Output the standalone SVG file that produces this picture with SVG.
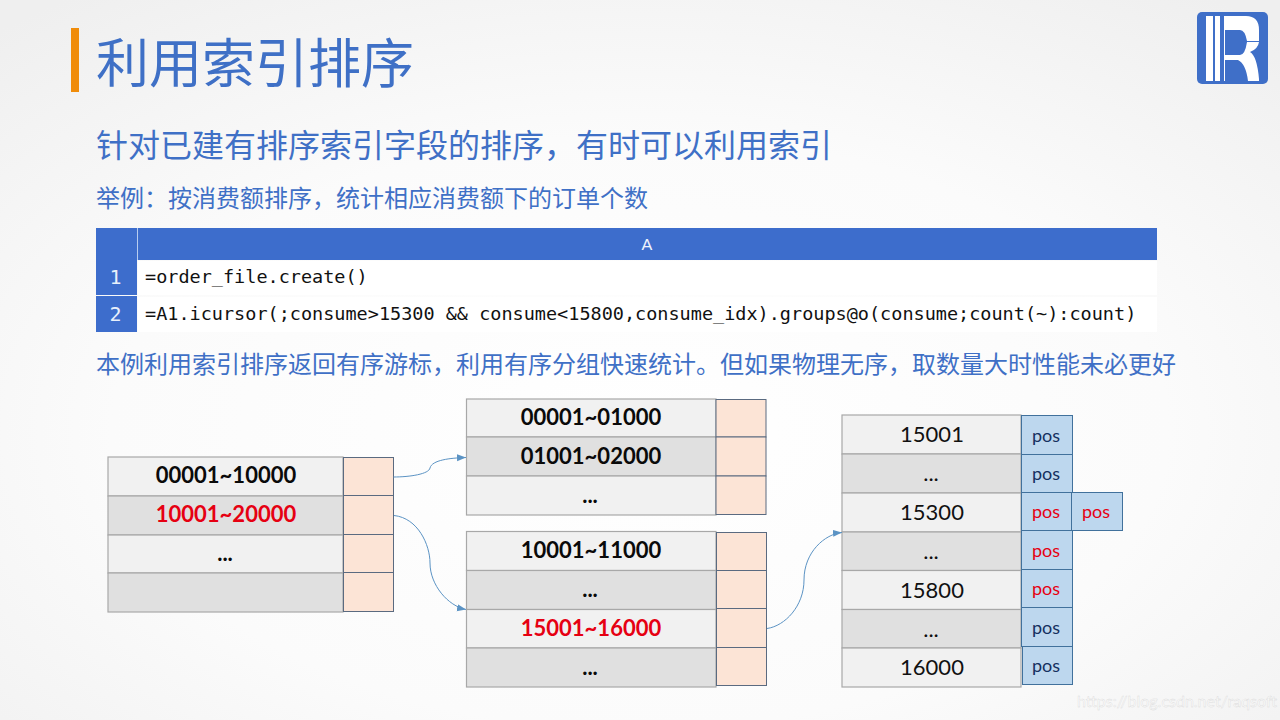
<svg xmlns="http://www.w3.org/2000/svg" width="1280" height="720" viewBox="0 0 1280 720">
<style>
text{font-family:"Lato","Noto Sans CJK SC",sans-serif}
.cjk{font-family:"Noto Sans CJK SC",sans-serif;fill:#3f70c6}
.mono{font-family:"DejaVu Sans Mono","Noto Sans CJK SC",monospace;font-size:18.5px;fill:#111}
.num{fill:#e8f0fb;font-size:20px;text-anchor:middle;font-family:"DejaVu Sans Mono",monospace}
.l{fill:#f1f1f1;stroke:#a8a8a8;stroke-width:1.2}
.d{fill:#e0e0e0;stroke:#a8a8a8;stroke-width:1.2}
.p{fill:#fce4d6;stroke:#5a6a80;stroke-width:1}
.b{fill:#bdd7ee;stroke:#41719c;stroke-width:1}
.t{font-size:22px;font-weight:700;fill:#0a0a0a;text-anchor:middle}
.r{fill:#e60012}
.v{font-size:22px;fill:#111;text-anchor:middle}
.k{font-size:18px;fill:#15305f;text-anchor:middle}
.k.r{fill:#e60012}
.c{fill:none;stroke:#5b93c4;stroke-width:1;marker-end:url(#a)}
</style>
<defs>
<radialGradient id="bg" cx="50%" cy="60%" r="75%"><stop offset="0" stop-color="#ffffff"/><stop offset="0.55" stop-color="#fbfbfb"/><stop offset="1" stop-color="#efefef"/></radialGradient>
<marker id="a" markerUnits="userSpaceOnUse" markerWidth="10" markerHeight="8" refX="9" refY="3.5" orient="auto"><path d="M0,0L9,3.5L0,7Z" fill="#5b93c4"/></marker>
</defs>
<rect width="1280" height="720" fill="url(#bg)"/>
<g id="title">
<rect x="71" y="28" width="8" height="64" fill="#f08c0a"/>
<text class="cjk" x="96" y="83" font-size="53">利用索引排序</text>
<text class="cjk" x="96" y="157" font-size="32">针对已建有排序索引字段的排序，有时可以利用索引</text>
<text class="cjk" x="96" y="207" font-size="24">举例：按消费额排序，统计相应消费额下的订单个数</text>
<text class="cjk" x="96" y="373" font-size="24">本例利用索引排序返回有序游标，利用有序分组快速统计。但如果物理无序，取数量大时性能未必更好</text>
</g>
<g id="logo">
<rect x="1197" y="12" width="71" height="72" rx="5" fill="#3f6fc8"/>
<path fill="#fff" d="M1206,16h7v65h-7zM1215,16h5v65h-5zM1224,16H1246Q1259,16 1259,30V41H1247Q1245,30 1240,30H1225V55H1240Q1245,55 1247,42H1259Q1258,49 1250,52Q1257,56 1259,79L1259,81H1248Q1246,64 1238,60H1225V81H1224Z"/>
</g>
<g id="code-table">
<rect x="96" y="228" width="1061" height="32" fill="#3d6dcc"/>
<rect x="138" y="261" width="1019" height="34" fill="#fff"/>
<rect x="138" y="297" width="1019" height="35" fill="#fff"/>
<rect x="96" y="260" width="41" height="35" fill="#3d6dcc"/>
<rect x="96" y="296" width="41" height="36" fill="#3d6dcc"/>
<path d="M137.500,228V260" stroke="#b8cdf0" stroke-width="1"/>
<text x="647" y="250" font-size="16" fill="#eef3fc" text-anchor="middle">A</text>
<text class="num" x="115.500" y="284">1</text>
<text class="num" x="115.500" y="321">2</text>
<text class="mono" x="145" y="283">=order_file.create()</text>
<text class="mono" x="145" y="320">=A1.icursor(;consume&gt;15300 &amp;&amp; consume&lt;15800,consume_idx).groups@o(consume;count(~):count)</text>
</g>
<g id="table-root">
<rect class="l" x="108" y="457" width="235" height="39"/><rect class="d" x="108" y="496" width="235" height="39"/><rect class="l" x="108" y="535" width="235" height="38"/><rect class="d" x="108" y="573" width="235" height="39"/>
<rect class="p" x="343.500" y="457.500" width="50" height="38"/><rect class="p" x="343.500" y="495.500" width="50" height="39"/><rect class="p" x="343.500" y="534.500" width="50" height="38"/><rect class="p" x="343.500" y="572.500" width="50" height="39"/>
<text class="t" x="226" y="483">00001~10000</text><text class="t r" x="226" y="522">10001~20000</text><text class="t" x="225" y="561">...</text>
</g>
<g id="table-top">
<rect class="l" x="466.500" y="399" width="249.500" height="38"/><rect class="d" x="466.500" y="437" width="249.500" height="39"/><rect class="l" x="466.500" y="476" width="249.500" height="39"/>
<rect class="p" x="716" y="399.500" width="50" height="37.500"/><rect class="p" x="716" y="437" width="50" height="39"/><rect class="p" x="716" y="476" width="50" height="38.500"/>
<text class="t" x="591" y="425">00001~01000</text><text class="t" x="591" y="464">01001~02000</text><text class="t" x="590" y="503">...</text>
</g>
<g id="table-bottom">
<rect class="l" x="466.500" y="531.500" width="249.500" height="39"/><rect class="d" x="466.500" y="570.500" width="249.500" height="39"/><rect class="l" x="466.500" y="609.500" width="249.500" height="38.500"/><rect class="d" x="466.500" y="648" width="249.500" height="39"/>
<rect class="p" x="716.500" y="532.500" width="50" height="38"/><rect class="p" x="716.500" y="570.500" width="50" height="38"/><rect class="p" x="716.500" y="608.500" width="50" height="39"/><rect class="p" x="716.500" y="647.500" width="50" height="38"/>
<text class="t" x="591" y="558">10001~11000</text><text class="t" x="590" y="597">...</text><text class="t r" x="591" y="636">15001~16000</text><text class="t" x="590" y="675">...</text>
</g>
<g id="table-leaf">
<rect class="l" x="842" y="415" width="179" height="39"/><rect class="d" x="842" y="454" width="179" height="39"/><rect class="l" x="842" y="493" width="179" height="39"/><rect class="d" x="842" y="532" width="179" height="38.500"/><rect class="l" x="842" y="570.500" width="179" height="39"/><rect class="d" x="842" y="609.500" width="179" height="38.500"/><rect class="l" x="842" y="648" width="179" height="39"/>
<rect class="b" x="1021.500" y="415.500" width="51" height="39"/><rect class="b" x="1021.500" y="454.500" width="51" height="38"/><rect class="b" x="1021.500" y="492.500" width="51" height="38"/><rect class="b" x="1021.500" y="530.500" width="51" height="39"/><rect class="b" x="1021.500" y="569.500" width="51" height="38"/><rect class="b" x="1021.500" y="607.500" width="51" height="39"/><rect class="b" x="1022.500" y="646.500" width="50" height="38"/><rect class="b" x="1071.500" y="492.500" width="51" height="38"/>
<text class="v" x="932" y="442">15001</text><text class="v" x="931" y="481">...</text><text class="v r" x="932" y="520">15300</text><text class="v r" x="931" y="559">...</text><text class="v r" x="932" y="598">15800</text><text class="v" x="931" y="637">...</text><text class="v" x="932" y="675">16000</text>
<text class="k" x="1046" y="442">pos</text><text class="k" x="1046" y="480">pos</text><text class="k r" x="1046" y="518">pos</text><text class="k r" x="1046" y="557">pos</text><text class="k r" x="1046" y="595">pos</text><text class="k" x="1046" y="634">pos</text><text class="k" x="1046" y="672">pos</text><text class="k r" x="1096" y="518">pos</text>
</g>
<g id="connectors">
<path class="c" d="M393.500,477C410,477 429,474 430,468C432,460 450,458 466,457.500"/>
<path class="c" d="M394,515.500C418,518 430,545 430,563C430,585 448,606 466,609.500"/>
<path class="c" d="M767,628.500C785,626 804,606 804,580C804,552 825,534 842,532.500"/>
</g>
<text id="watermark" x="1077" y="707" font-size="16" fill="#ffffff" fill-opacity="0.8" stroke="#d9d9d9" stroke-width="0.4">https://blog.csdn.net/raqsoft</text>
</svg>
